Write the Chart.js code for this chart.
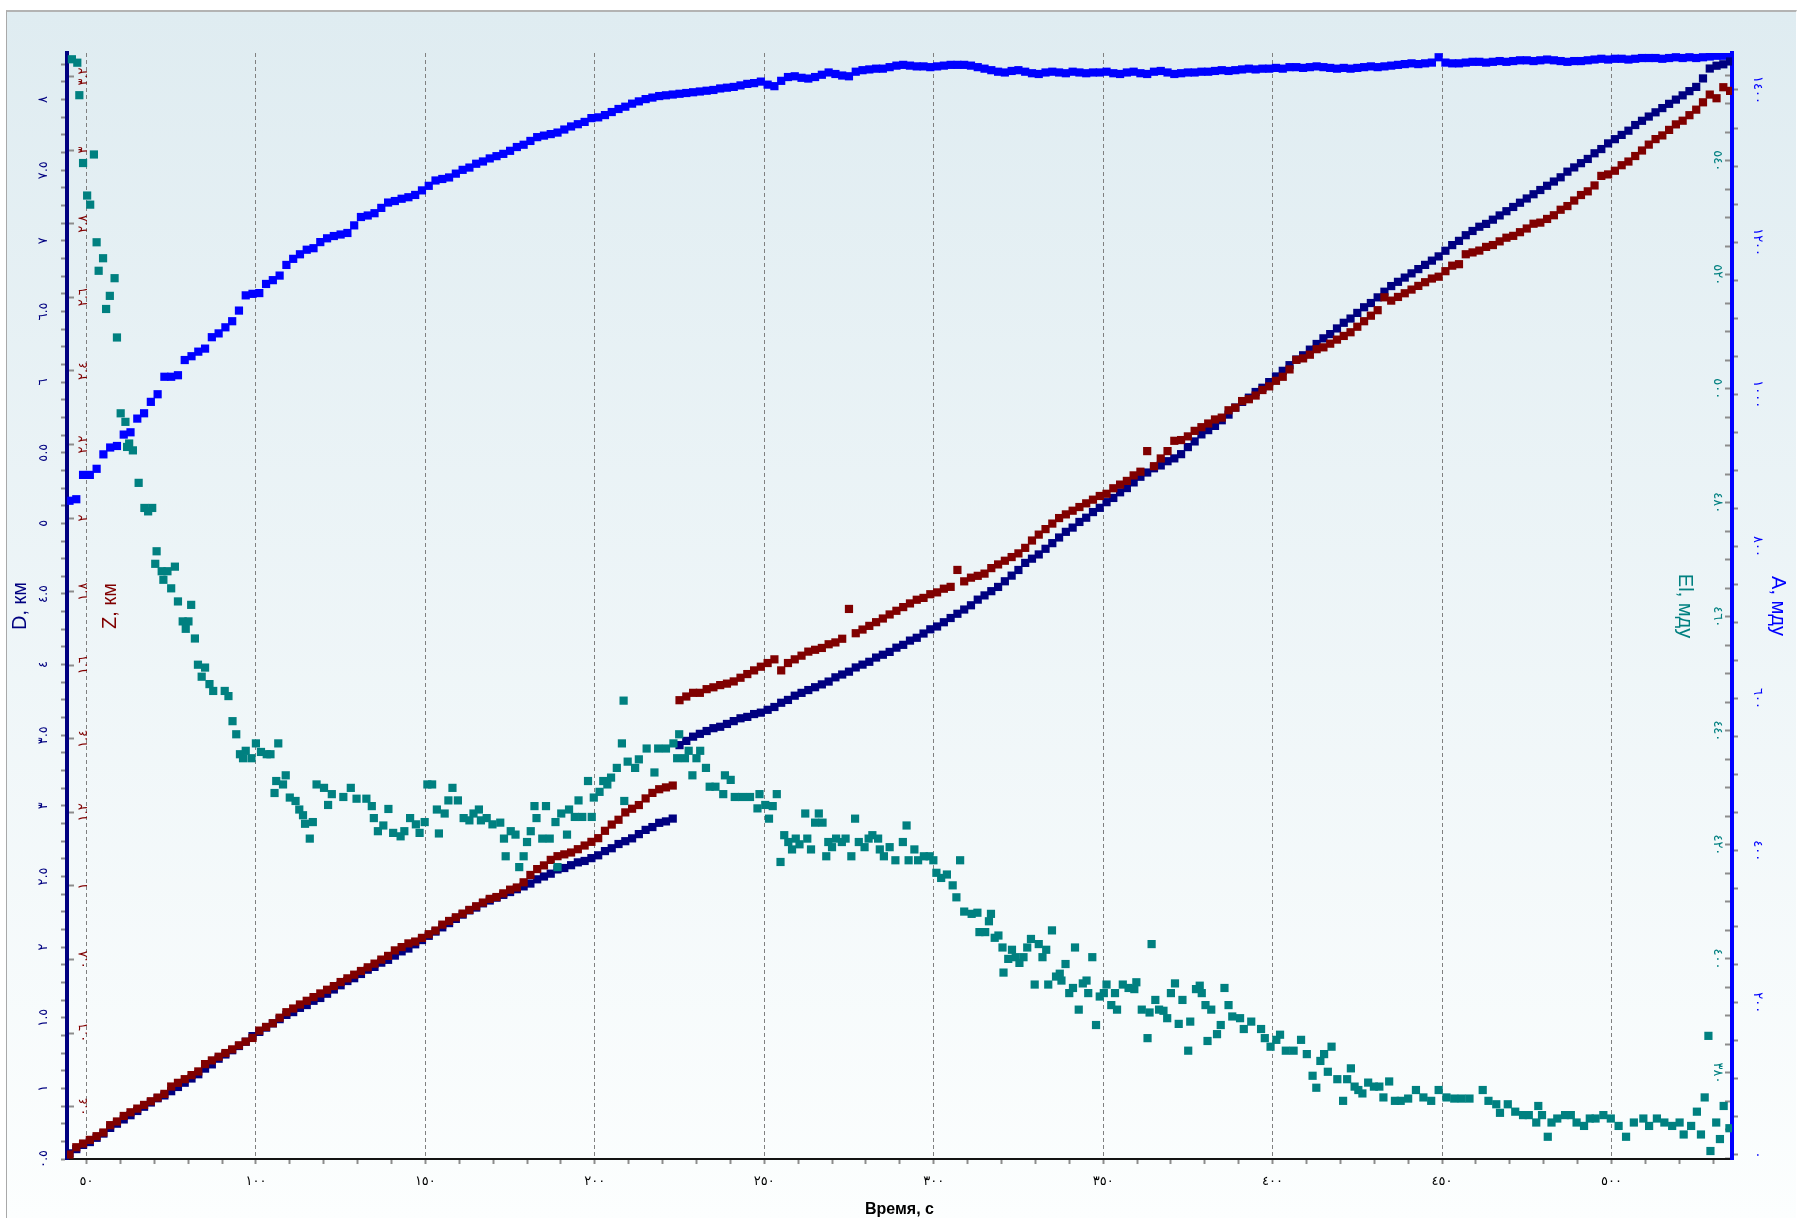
<!DOCTYPE html>
<html lang="ru">
<head>
<meta charset="UTF-8">
<title>D, Z, A, El</title>
<script src="https://cdn.jsdelivr.net/npm/chart.js"></script>
<style>
  html, body { margin: 0; padding: 0; background: #fff; overflow: hidden; }
  #panel {
    position: absolute; left: 6px; top: 10px; width: 1789px; height: 1208px;
    border-top: 2px solid #b3b3b3; border-left: 1px solid #a9a9a9; border-right: 1px solid #fff;
    background: linear-gradient(to bottom, #dfecf1 0%, #fcfefe 100%);
  }
  #chart { position: absolute; left: 0; top: 0; }
</style>
</head>
<body>
<div id="panel"></div>
<canvas id="chart" width="1802" height="1218"></canvas>
<script>
  // D, Z and A are sampled every 2 s starting at 45 s
  const tStart = 45, tStep = 2;

  // D, km
  const dKm = [
    0.54,0.57,0.60,0.62,0.65,0.68,0.72,0.75,0.78,0.81,
    0.84,0.87,0.90,0.93,0.95,0.98,1.01,1.04,1.07,1.10,
    1.14,1.17,1.21,1.24,1.27,1.30,1.33,1.37,1.40,1.43,
    1.46,1.49,1.52,1.54,1.57,1.59,1.62,1.64,1.67,1.70,
    1.73,1.76,1.78,1.81,1.84,1.86,1.89,1.91,1.94,1.97,
    1.99,2.02,2.05,2.08,2.11,2.14,2.17,2.20,2.23,2.26,
    2.28,2.31,2.33,2.35,2.37,2.39,2.41,2.43,2.45,2.48,
    2.50,2.52,2.55,2.56,2.58,2.60,2.61,2.63,2.65,2.68,
    2.70,2.73,2.75,2.77,2.80,2.83,2.85,2.88,2.89,2.91,
    3.43,3.46,3.49,3.51,3.53,3.55,3.56,3.58,3.60,3.62,
    3.63,3.65,3.66,3.68,3.70,3.73,3.75,3.78,3.80,3.82,
    3.84,3.86,3.88,3.91,3.93,3.95,3.98,4.00,4.02,4.05,
    4.07,4.09,4.12,4.14,4.17,4.19,4.22,4.25,4.27,4.30,
    4.33,4.36,4.39,4.42,4.46,4.49,4.52,4.55,4.59,4.63,
    4.67,4.72,4.75,4.78,4.82,4.86,4.90,4.94,4.97,5.01,
    5.04,5.08,5.11,5.15,5.18,5.22,5.25,5.29,5.33,5.36,
    5.39,5.41,5.44,5.46,5.49,5.54,5.58,5.63,5.66,5.69,
    5.73,5.77,5.82,5.86,5.89,5.93,5.96,6.00,6.04,6.08,
    6.12,6.16,6.19,6.23,6.27,6.31,6.34,6.38,6.42,6.45,
    6.49,6.53,6.56,6.60,6.64,6.68,6.71,6.74,6.77,6.80,
    6.83,6.86,6.89,6.93,6.97,7.00,7.04,7.07,7.10,7.12,
    7.15,7.18,7.21,7.24,7.27,7.30,7.33,7.36,7.39,7.42,
    7.45,7.49,7.52,7.55,7.58,7.62,7.65,7.69,7.72,7.75,
    7.78,7.82,7.85,7.88,7.91,7.94,7.97,8.00,8.03,8.06,
    8.09,8.15,8.22,8.24,8.25,8.27
  ];

  // Z, km
  const zKm = [
    0.27,0.29,0.30,0.31,0.32,0.33,0.35,0.36,0.375,0.385,
    0.395,0.405,0.415,0.425,0.435,0.455,0.465,0.475,0.486,0.496,
    0.516,0.526,0.536,0.546,0.556,0.567,0.577,0.587,0.607,0.617,
    0.627,0.642,0.657,0.667,0.678,0.688,0.698,0.708,0.718,0.728,
    0.739,0.749,0.759,0.769,0.779,0.789,0.80,0.81,0.825,0.834,
    0.844,0.849,0.859,0.869,0.879,0.895,0.905,0.915,0.925,0.935,
    0.945,0.955,0.965,0.97,0.98,0.99,0.996,1.01,1.03,1.046,
    1.056,1.071,1.081,1.086,1.091,1.10,1.11,1.12,1.13,1.15,
    1.167,1.18,1.20,1.21,1.22,1.238,1.253,1.263,1.268,1.273,
    1.505,1.515,1.525,1.525,1.535,1.54,1.546,1.55,1.556,1.566,
    1.576,1.586,1.596,1.606,1.616,1.586,1.606,1.616,1.626,1.637,
    1.642,1.647,1.657,1.662,1.672,1.753,1.687,1.697,1.707,1.717,
    1.727,1.738,1.748,1.758,1.768,1.778,1.783,1.793,1.798,1.808,
    1.813,1.859,1.828,1.838,1.843,1.849,1.864,1.874,1.884,1.894,
    1.904,1.919,1.939,1.955,1.97,1.985,2.00,2.01,2.02,2.03,
    2.04,2.05,2.06,2.066,2.081,2.091,2.101,2.116,2.126,2.182,
    2.141,2.162,2.182,2.21,2.212,2.222,2.237,2.247,2.257,2.268,
    2.273,2.293,2.30,2.318,2.323,2.333,2.348,2.358,2.373,2.384,
    2.404,2.43,2.434,2.444,2.459,2.464,2.474,2.485,2.495,2.505,
    2.52,2.535,2.55,2.565,2.60,2.591,2.601,2.611,2.621,2.631,
    2.641,2.651,2.656,2.671,2.686,2.69,2.717,2.722,2.727,2.737,
    2.742,2.752,2.762,2.767,2.777,2.787,2.80,2.803,2.813,2.823,
    2.838,2.848,2.863,2.878,2.888,2.904,2.93,2.934,2.944,2.959,
    2.969,2.984,2.999,3.015,3.03,3.04,3.055,3.07,3.08,3.095,
    3.11,3.13,3.151,3.141,3.171,3.161
  ];

  // A, mdu
  const aMdu = [
    860,862,894,894,902,921,930,932,947,950,
    968,975,990,1000,1023,1023,1025,1045,1050,1056,
    1060,1075,1080,1088,1096,1110,1130,1132,1133,1145,
    1150,1156,1170,1178,1184,1190,1192,1200,1205,1208,
    1210,1212,1222,1233,1235,1238,1245,1252,1254,1257,
    1259,1262,1268,1274,1281,1283,1285,1290,1295,1298,
    1303,1306,1310,1313,1316,1320,1325,1328,1333,1338,
    1340,1342,1344,1348,1352,1355,1358,1363,1364,1367,
    1371,1375,1378,1382,1385,1388,1390,1392,1393,1394,
    1395,1396,1397,1398,1399,1400,1402,1403,1404,1406,
    1408,1409,1411,1407,1405,1412,1417,1418,1416,1415,
    1417,1420,1423,1421,1419,1418,1424,1426,1427,1428,
    1428,1430,1432,1433,1432,1431,1431,1430,1431,1432,
    1433,1433,1433,1432,1430,1428,1426,1424,1423,1425,
    1426,1424,1422,1421,1423,1424,1423,1422,1424,1423,
    1422,1423,1423,1424,1422,1421,1423,1424,1422,1421,
    1424,1425,1423,1421,1422,1423,1423,1424,1424,1425,
    1426,1425,1426,1427,1428,1427,1428,1428,1429,1428,
    1430,1430,1429,1430,1431,1430,1429,1428,1429,1428,
    1429,1430,1431,1430,1431,1432,1433,1434,1435,1434,
    1435,1436,1443,1436,1435,1435,1436,1437,1437,1436,
    1437,1438,1437,1438,1439,1439,1438,1439,1440,1439,
    1438,1437,1438,1438,1439,1440,1441,1440,1441,1441,
    1440,1441,1442,1442,1442,1441,1442,1443,1442,1443,
    1442,1443,1444,1445,1445,1444
  ];

  // El, mdu: its own time stamps
  const elTimes = [
    45.7,47.3,47.9,49.0,50.2,51.1,52.2,53.0,53.6,54.9,
    55.8,56.9,58.3,59.0,60.1,61.5,62.0,62.6,63.7,65.4,
    67.1,68.2,69.4,70.3,70.7,72.2,72.7,73.9,75.0,76.1,
    77.0,78.4,79.3,80.1,80.9,82.0,82.9,84.0,85.0,86.3,
    87.4,90.8,91.9,93.1,94.2,95.3,96.2,97.0,98.7,100.0,
    101.5,103.2,104.3,105.5,106.0,106.6,108.0,108.8,110.0,111.7,
    112.8,113.9,114.5,115.9,116.8,117.9,120.1,121.3,122.4,125.8,
    128.0,129.7,132.6,134.2,134.8,136.0,137.6,139.1,140.5,142.7,
    143.8,145.5,147.2,148.3,149.8,150.6,152.0,153.4,154.0,155.7,
    156.8,158.0,159.6,161.3,163.0,164.2,165.8,166.4,168.1,169.8,
    172.1,173.2,173.7,175.2,176.6,177.7,179.0,180.0,181.1,182.2,
    182.8,184.5,185.6,186.7,188.4,189.0,190.1,191.8,192.4,194.1,
    195.2,196.3,198.0,199.1,199.7,201.4,202.5,203.7,204.8,206.5,
    208.0,208.5,208.7,209.7,211.9,213.0,215.3,217.6,218.7,221.0,
    223.2,224.3,224.9,226.6,227.7,228.8,230.0,231.1,232.8,233.9,
    235.6,237.9,238.4,240.1,241.3,243.5,245.8,248.0,248.6,250.3,
    251.4,252.5,253.7,254.8,255.9,257.1,258.2,259.3,260.4,262.1,
    262.7,263.8,265.0,266.1,267.2,268.3,268.9,270.0,271.2,272.9,
    274.0,275.7,276.8,277.9,279.6,280.8,281.9,283.6,284.1,285.3,
    287.0,288.7,290.9,292.0,292.6,294.3,295.4,297.1,298.8,299.9,
    300.8,302.2,303.9,305.6,306.7,307.8,309.0,311.2,312.9,313.5,
    315.2,316.3,316.9,318.0,319.1,320.3,320.6,322.0,323.1,324.2,
    325.3,326.5,327.6,328.7,329.8,331.0,332.1,333.2,333.8,334.9,
    336.1,337.2,337.7,338.9,340.0,341.1,341.7,342.8,344.0,345.1,
    345.6,346.8,347.9,349.0,350.2,351.0,352.4,353.5,354.1,355.8,
    357.5,359.2,359.8,361.4,363.1,363.7,364.3,365.4,366.5,367.8,
    368.9,370.0,371.2,372.3,373.4,375.1,375.7,377.4,378.5,379.1,
    380.2,380.8,381.9,383.6,384.7,385.8,387.0,388.1,390.4,391.5,
    393.7,396.6,397.7,399.4,401.1,402.2,403.9,406.2,408.4,410.1,
    411.8,412.9,414.1,415.2,416.3,417.4,419.1,420.8,422.0,423.1,
    424.2,425.3,426.5,428.2,429.9,431.5,432.7,434.4,436.1,437.8,
    440.0,442.3,444.5,446.8,449.0,451.3,453.6,455.8,458.1,462.0,
    463.7,466.0,467.1,469.4,471.6,473.9,475.6,477.8,478.4,479.5,
    481.2,482.3,484.0,486.3,488.0,489.7,491.9,493.6,495.3,497.6,
    499.8,502.1,504.3,506.6,509.4,511.1,513.4,515.6,517.9,520.1,
    521.3,523.5,525.2,526.4,527.5,528.6,529.2,530.9,532.0,533.1,
    534.8
  ];
  const elMdu = [
    557.8,557.2,551.5,539.6,533.9,532.3,541.1,525.7,520.7,522.9,
    514.0,516.3,519.4,509.0,495.7,494.2,489.8,490.4,489.2,483.5,
    479.1,478.5,479.1,469.3,471.5,468.0,466.5,468.0,465.0,468.8,
    462.7,459.2,457.9,459.2,462.1,456.2,451.6,449.5,451.1,448.2,
    447.0,447.0,446.1,441.7,439.4,435.9,435.2,436.5,435.2,437.8,
    436.3,435.9,435.9,429.1,431.2,437.8,430.6,432.2,428.3,427.7,
    426.2,425.2,423.7,421.1,424.0,430.6,430.0,427.0,428.9,428.4,
    430.0,428.1,428.1,426.8,424.7,422.4,423.4,426.3,422.1,421.5,
    422.4,424.7,423.6,422.1,424.0,430.6,430.6,426.2,422.0,425.5,
    427.8,430.0,427.8,424.7,424.3,425.5,426.2,424.3,424.7,423.6,
    423.9,421.1,418.0,422.4,421.8,416.1,418.0,420.5,422.4,426.8,
    424.7,421.1,426.8,421.1,424.0,416.1,425.5,421.8,426.2,424.9,
    427.8,424.9,431.2,424.9,428.3,429.3,431.2,430.6,431.8,433.5,
    437.8,445.3,427.7,434.6,433.5,435.0,436.9,432.7,436.9,436.9,
    437.8,435.2,439.4,435.2,436.5,432.2,435.2,436.5,433.5,430.2,
    430.2,428.9,432.2,431.4,428.4,428.4,428.4,426.4,428.9,427.0,
    424.6,426.8,428.9,417.0,421.7,420.5,419.2,421.1,420.1,425.5,
    421.1,419.2,423.9,425.5,423.9,418.0,420.5,419.6,421.1,420.5,
    421.1,418.0,424.6,420.5,419.6,421.1,421.7,421.1,419.2,418.0,
    419.6,417.3,420.5,423.4,417.3,419.2,417.3,418.0,418.0,417.3,
    415.1,414.2,414.8,412.9,410.8,417.3,408.3,407.9,408.1,404.7,
    404.7,406.6,407.9,403.7,404.1,402.0,397.6,400.0,401.6,400.3,
    399.3,400.3,402.0,403.5,395.5,402.6,400.3,401.6,395.5,405.0,
    396.9,397.4,396.2,399.1,394.0,394.9,402.0,391.1,395.7,396.2,
    394.0,400.3,388.4,393.4,394.0,395.5,391.9,394.0,391.1,395.5,
    394.9,394.7,395.9,391.1,386.1,390.6,402.6,392.8,391.1,390.9,
    389.6,394.0,395.7,388.6,392.8,383.9,389.0,394.7,395.3,394.0,
    391.9,385.6,391.1,386.8,388.4,394.9,391.9,389.9,389.6,387.7,
    389.0,387.7,386.1,384.6,385.8,386.7,383.9,383.9,385.8,383.3,
    379.5,377.4,382.1,383.3,380.2,384.6,378.9,375.1,378.9,380.8,
    377.6,377.0,376.4,378.3,377.6,377.6,375.7,378.5,375.1,375.1,
    375.5,377.0,375.7,375.1,377.0,375.7,375.5,375.5,375.5,377.0,
    375.1,374.5,373.0,374.5,373.2,372.6,372.6,371.3,374.2,372.6,
    368.8,371.3,372.0,372.6,372.6,371.3,370.7,372.0,372.0,372.6,
    372.0,370.7,368.8,371.3,372.0,370.7,372.0,371.3,370.7,371.3,
    369.2,370.7,373.2,369.2,375.7,386.5,366.3,371.3,368.4,374.2,
    370.3
  ];

  // axis labels use Eastern Arabic digits
  const arDigits = '٠١٢٣٤٥٦٧٨٩';
  function toArabic(v) {
    return String(v).replace(/[0-9]/g, d => arDigits[d]);
  }
  function isMult(v, m) {
    return Math.abs(v / m - Math.round(v / m)) < 1e-6;
  }
  function gridPoints(values) {
    return values.map((v, i) => ({x: tStart + i * tStep, y: v}));
  }
  const elPoints = elTimes.map((t, i) => ({x: t, y: elMdu[i]}));

  const tickFont = {family: 'DejaVu Sans', size: 13};
  const titleFont = {family: 'Liberation Sans', size: 20};
  const tickGray = '#8c8c8c';

  new Chart(document.getElementById('chart'), {
    type: 'scatter',
    data: {
      datasets: [
        {label: 'El', data: elPoints, yAxisID: 'el', backgroundColor: '#008080', borderColor: '#008080'},
        {label: 'Z', data: gridPoints(zKm), yAxisID: 'z', backgroundColor: '#800000', borderColor: '#800000'},
        {label: 'D', data: gridPoints(dKm), yAxisID: 'd', backgroundColor: '#000080', borderColor: '#000080'},
        {label: 'A', data: gridPoints(aMdu), yAxisID: 'a', backgroundColor: '#0000ff', borderColor: '#0000ff'}
      ]
    },
    options: {
      responsive: false,
      animation: false,
      devicePixelRatio: 1,
      events: [],
      layout: {padding: {top: 53, left: 0, right: 0, bottom: 0}},
      elements: {point: {pointStyle: 'rect', radius: 5.8, hoverRadius: 5.8, borderWidth: 0}},
      plugins: {legend: {display: false}, tooltip: {enabled: false}},
      scales: {
        x: {
          type: 'linear', position: 'bottom', min: 44.26, max: 535.56,
          afterFit: s => { s.height = 59; },
          grid: {
            color: c => (c.tick && isMult(c.tick.value, 50)) ? '#808080' : 'rgba(0,0,0,0)',
            lineWidth: 1, tickLength: 5, tickColor: tickGray, tickWidth: 2
          },
          border: {display: true, color: '#141414', width: 2, dash: [4, 3]},
          ticks: {
            stepSize: 10, autoSkip: false, includeBounds: false, maxRotation: 0, minRotation: 0,
            padding: 10, color: '#000', font: tickFont,
            callback: v => isMult(v, 50) ? toArabic(v) : ''
          },
          title: {
            display: true, text: 'Время, с', color: '#000',
            font: {family: 'Liberation Sans', size: 16, weight: 'bold', lineHeight: 1},
            padding: {top: 0, bottom: 0}
          }
        },
        d: {
          type: 'linear', position: 'left', weight: 2, min: 0.5, max: 8.33,
          afterFit: s => { s.width = 67; },
          grid: {drawOnChartArea: false, tickLength: 6, tickColor: tickGray, tickWidth: 2},
          border: {display: true, color: '#000080', width: 4},
          ticks: {
            stepSize: 0.125, autoSkip: false, includeBounds: false, minRotation: 90, maxRotation: 90,
            crossAlign: 'center', padding: 8, color: '#000080', font: tickFont,
            callback: v => isMult(v, 0.5) ? toArabic(+v.toFixed(1)) : ''
          },
          title: {display: true, text: 'D, км', color: '#000080', font: titleFont, padding: {top: 8, bottom: 0}}
        },
        z: {
          type: 'linear', position: 'left', weight: 1, min: 0.258, max: 3.264,
          afterFit: s => { s.width = 0; },
          grid: {drawOnChartArea: false, tickLength: -7, tickColor: tickGray, tickWidth: 2},
          border: {display: false},
          ticks: {
            stepSize: 0.2, autoSkip: false, includeBounds: false, mirror: true, minRotation: 90, maxRotation: 90,
            crossAlign: 'center', padding: 8, color: '#800000', font: tickFont,
            callback: v => toArabic(+v.toFixed(1))
          },
          title: {display: true, text: 'Z, км', color: '#800000', font: titleFont, padding: {top: 31, bottom: 0}}
        },
        el: {
          type: 'linear', position: 'right', weight: 1, min: 364.9, max: 558.9,
          afterFit: s => { s.width = 0; },
          grid: {drawOnChartArea: false, tickLength: -7, tickColor: tickGray, tickWidth: 2},
          border: {display: false},
          ticks: {
            stepSize: 5, autoSkip: false, includeBounds: false, mirror: true, minRotation: -90, maxRotation: -90,
            crossAlign: 'center', padding: -4, color: '#008080', font: tickFont,
            callback: v => isMult(v, 20) ? toArabic(v) : ''
          },
          title: {display: true, text: 'El, мду', color: '#008080', font: titleFont, padding: {top: 35, bottom: 0}}
        },
        a: {
          type: 'linear', position: 'right', weight: 2, min: -5.3, max: 1448.6,
          afterFit: s => { s.width = 70; },
          grid: {drawOnChartArea: false, tickLength: 6, tickColor: tickGray, tickWidth: 2},
          border: {display: true, color: '#0000ff', width: 4},
          ticks: {
            stepSize: 50, autoSkip: false, includeBounds: false, minRotation: -90, maxRotation: -90,
            crossAlign: 'center', padding: 5, color: '#0000ff', font: tickFont,
            callback: v => isMult(v, 200) ? toArabic(v) : ''
          },
          title: {display: true, text: 'A, мду', color: '#0000ff', font: titleFont, padding: {top: 12, bottom: 0}}
        }
      }
    }
  });
</script>
</body>
</html>
